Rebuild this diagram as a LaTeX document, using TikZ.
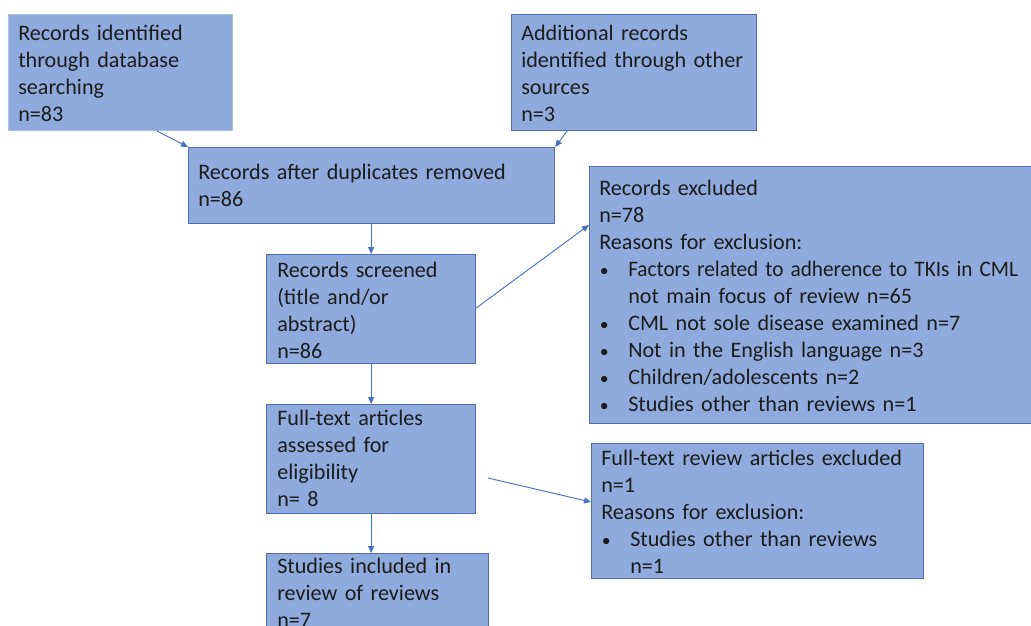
\documentclass[tikz,border=0pt]{standalone}
\usepackage{fontspec}
\setmainfont{Carlito}
\usetikzlibrary{arrows.meta}
\definecolor{boxfill}{HTML}{8FAADC}
\definecolor{boxline}{HTML}{4F6FAE}
\definecolor{faintline}{HTML}{A9BFE6}
\definecolor{arrowcol}{HTML}{4472C4}
\definecolor{inkcol}{HTML}{1C1C1C}
\newdimen\pxu \pxu=0.75pt
% bullet item marker and continuation indent
\newcommand{\bul}{\makebox[29\pxu][l]{\makebox[10\pxu]{\scalebox{0.8}{\textbullet}}}}
\newcommand{\ind}{\hspace*{29\pxu}}
\begin{document}
\begin{tikzpicture}[x=0.75pt,y=-0.75pt,
  flowbox/.style={draw=boxline,line width=0.9pt,fill=boxfill,inner sep=0pt,anchor=north west},
  boxtext/.style={anchor=base west,inner sep=0pt,text width=#1,align=left,text=inkcol,
    font=\fontsize{16.6pt}{20.25pt}\selectfont},
  flowarrow/.style={draw=arrowcol,line width=0.7pt,-{Triangle[length=5.25pt,width=4.5pt]}}]
\useasboundingbox (0,0) rectangle (1031,625);
\clip (0,0) rectangle (1031,625);

% boxes
\node[flowbox,draw=faintline,minimum width=224\pxu,minimum height=116\pxu] (db) at (8,14) {};
\node[flowbox,minimum width=245\pxu,minimum height=116\pxu] (other) at (511,14) {};
\node[flowbox,minimum width=366\pxu,minimum height=76\pxu] (dup) at (188,147) {};
\node[flowbox,minimum width=209\pxu,minimum height=109\pxu] (screen) at (266,254) {};
\node[flowbox,minimum width=460\pxu,minimum height=257\pxu] (excl) at (589,166) {};
\node[flowbox,minimum width=209\pxu,minimum height=109\pxu] (full) at (266,404) {};
\node[flowbox,minimum width=332\pxu,minimum height=135\pxu] (fexcl) at (591,443) {};
\node[flowbox,minimum width=222\pxu,minimum height=100\pxu] (incl) at (266,553) {};

% texts
\node[boxtext=210\pxu] (tdb) at (18,40) {Records identified\\through database\\searching\\n=83};
\node[boxtext=230\pxu] (tother) at (521,40) {Additional records\\identified through other\\sources\\n=3};
\node[boxtext=350\pxu] (tdup) at (198,179) {Records after duplicates removed\\n=86};
\node[boxtext=200\pxu] (tscreen) at (277,277) {Records screened\\(title and/or\\abstract)\\n=86};
\node[boxtext=440\pxu] (texcl) at (599,195) {Records excluded\\n=78\\Reasons for exclusion:\\
  \bul \scalebox{0.96}[1]{Factors related to adherence to TKIs in CML}\\
  \ind not main focus of review n=65\\
  \bul CML not sole disease examined n=7\\
  \bul Not in the English language n=3\\
  \bul Children/adolescents n=2\\
  \bul Studies other than reviews n=1};
\node[boxtext=200\pxu] (tfull) at (277,425) {Full-text articles\\assessed for\\eligibility\\n= 8};
\node[boxtext=320\pxu] (tfexcl) at (601,465) {Full-text review articles excluded\\n=1\\Reasons for exclusion:\\
  \bul Studies other than reviews\\
  \ind n=1};
\node[boxtext=210\pxu] (tincl) at (277,573) {Studies included in\\review of reviews\\n=7};

% connectors
\coordinate (dbout) at (157,131);
\coordinate (otherout) at (567,131);
\coordinate (fullout) at (488,478);
\draw[flowarrow] (dbout) -- (dup.north west);
\draw[flowarrow] (otherout) -- (dup.north east);
\draw[flowarrow] (dup.south -| screen.north) -- (screen.north);
\draw[flowarrow] (screen.east |- 0,308) -- (excl.west |- 0,225);
\draw[flowarrow] (screen.south) -- (full.north);
\draw[flowarrow] (fullout) -- (fexcl.west |- 0,502);
\draw[flowarrow] (full.south) -- (incl.north -| full.south);
\end{tikzpicture}
\end{document}
